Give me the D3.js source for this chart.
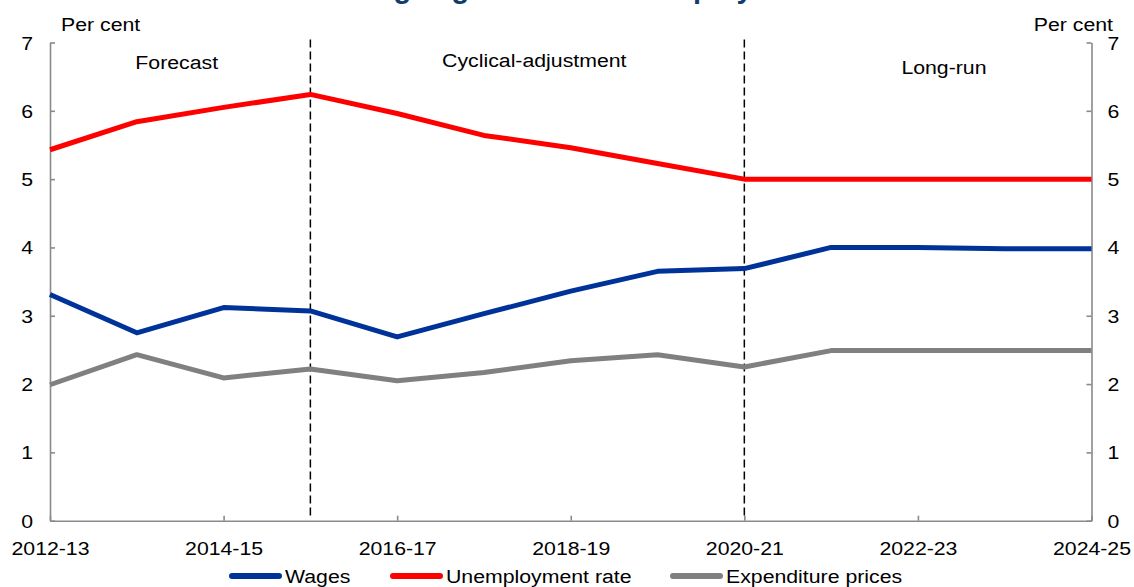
<!DOCTYPE html>
<html>
<head>
<meta charset="utf-8">
<script src="https://cdn.jsdelivr.net/npm/d3@7/dist/d3.min.js"></script>
<style>
  html, body { margin: 0; padding: 0; background: #fff; }
  svg { display: block; font-family: "Liberation Sans", Arial, sans-serif; }
</style>
</head>
<body>
<svg id="chart" width="1134" height="587"></svg>
<script>
const categories = ["2012-13","2013-14","2014-15","2015-16","2016-17","2017-18","2018-19","2019-20","2020-21","2021-22","2022-23","2023-24","2024-25"];
const tickLabels = ["2012-13","2014-15","2016-17","2018-19","2020-21","2022-23","2024-25"];
const wages        = [3.31, 2.75, 3.12, 3.07, 2.69, 3.03, 3.36, 3.65, 3.69, 4.00, 4.00, 3.98, 3.98];
const unemployment = [5.43, 5.84, 6.05, 6.24, 5.96, 5.64, 5.46, 5.23, 5.00, 5.00, 5.00, 5.00, 5.00];
const expPrices    = [1.99, 2.43, 2.09, 2.22, 2.05, 2.17, 2.34, 2.43, 2.25, 2.49, 2.49, 2.49, 2.49];
const yTicks = [0,1,2,3,4,5,6,7];
const dividers = ["2015-16","2020-21"];
const regions = [
  {label: "Forecast", at: "2014-15", dx: -0.54, y: 69},
  {label: "Cyclical-adjustment", at: "2018-19", dx: -0.42, y: 67},
  {label: "Long-run", at: "2022-23", dx: 0.3, y: 74}
];
const seriesList = [
  {name: "Wages", values: wages, color: "#003399"},
  {name: "Unemployment rate", values: unemployment, color: "#ff0000"},
  {name: "Expenditure prices", values: expPrices, color: "#808080"}
];
const titleText = "Wages growth and unemployment";

const SX = 1.12;     // horizontal stretch of the text
const FS = 19;
const svg = d3.select("#chart");
const plotLeft = 50, plotRight = 1091.5, plotTop = 42.5, plotBottom = 520.7;

const x = d3.scalePoint().domain(categories).range([plotLeft, plotRight]);
const y = d3.scaleLinear().domain([0, 7]).range([plotBottom, plotTop]);

function stretchedText(g, tx, ty, str, anchor, opts = {}) {
  return g.append("text")
    .attr("transform", `translate(${tx},${ty}) scale(${opts.sx || SX},1)`)
    .attr("text-anchor", anchor)
    .attr("font-size", opts.fs || FS)
    .attr("font-weight", opts.fw || "normal")
    .attr("fill", opts.fill || "#000")
    .text(str);
}

// partially-cropped title
stretchedText(svg, 351, -2.5, titleText, "start", {fs: 29, fw: "bold", fill: "#123d6a", sx: 1});

const axisColor = "#8a8a8a";

// bottom axis
const xAxis = svg.append("g")
  .attr("transform", `translate(0,${plotBottom})`)
  .call(d3.axisBottom(x).tickValues(tickLabels).tickSizeInner(-5).tickSizeOuter(0).tickPadding(0));
xAxis.selectAll("text").remove();
xAxis.selectAll(".tick").each(function(d) {
  stretchedText(d3.select(this), 0, 34, d, "middle");
});

// left axis
const yAxisL = svg.append("g")
  .attr("transform", `translate(${plotLeft},0)`)
  .call(d3.axisLeft(y).tickValues(yTicks).tickSizeInner(-5).tickSizeOuter(0).tickFormat(d3.format("d")));
yAxisL.selectAll("text").remove();
yAxisL.selectAll(".tick").each(function(d) {
  stretchedText(d3.select(this), -17, 6.5, d, "end");
});

// right axis
const yAxisR = svg.append("g")
  .attr("transform", `translate(${plotRight},0)`)
  .call(d3.axisRight(y).tickValues(yTicks).tickSizeInner(-5).tickSizeOuter(0).tickFormat(d3.format("d")));
yAxisR.selectAll("text").remove();
yAxisR.selectAll(".tick").each(function(d) {
  stretchedText(d3.select(this), 16, 6.5, d, "start");
});

svg.selectAll(".domain, .tick line").attr("stroke", axisColor).attr("stroke-width", 1.6);

// unit labels
stretchedText(svg, 61, 31, "Per cent", "start");
stretchedText(svg, 1113, 31, "Per cent", "end");

// divider lines
svg.selectAll(".divider").data(dividers).join("line")
  .attr("class", "divider")
  .attr("x1", d => x(d)).attr("x2", d => x(d))
  .attr("y1", plotTop - 3).attr("y2", plotBottom - 2)
  .attr("stroke", "#000").attr("stroke-width", 1.5)
  .attr("stroke-dasharray", "8,4");

// region labels
regions.forEach(r => {
  stretchedText(svg, x(r.at) + r.dx * x.step(), r.y, r.label, "middle");
});

// series lines
const line = d3.line().x((d, i) => x(categories[i])).y(d => y(d));
svg.selectAll(".series").data(seriesList).join("path")
  .attr("class", "series")
  .attr("d", d => line(d.values))
  .attr("fill", "none")
  .attr("stroke", d => d.color)
  .attr("stroke-width", 5)
  .attr("stroke-linejoin", "round");

// legend
const legendX = [229, 390, 670];
const legend = svg.append("g");
seriesList.forEach((s, i) => {
  const lx = legendX[i], ly = 576;
  legend.append("line")
    .attr("x1", lx + 3).attr("x2", lx + 50).attr("y1", ly).attr("y2", ly)
    .attr("stroke", s.color).attr("stroke-width", 6).attr("stroke-linecap", "round");
  stretchedText(legend, lx + 56, ly + 7, s.name, "start");
});
</script>
</body>
</html>
